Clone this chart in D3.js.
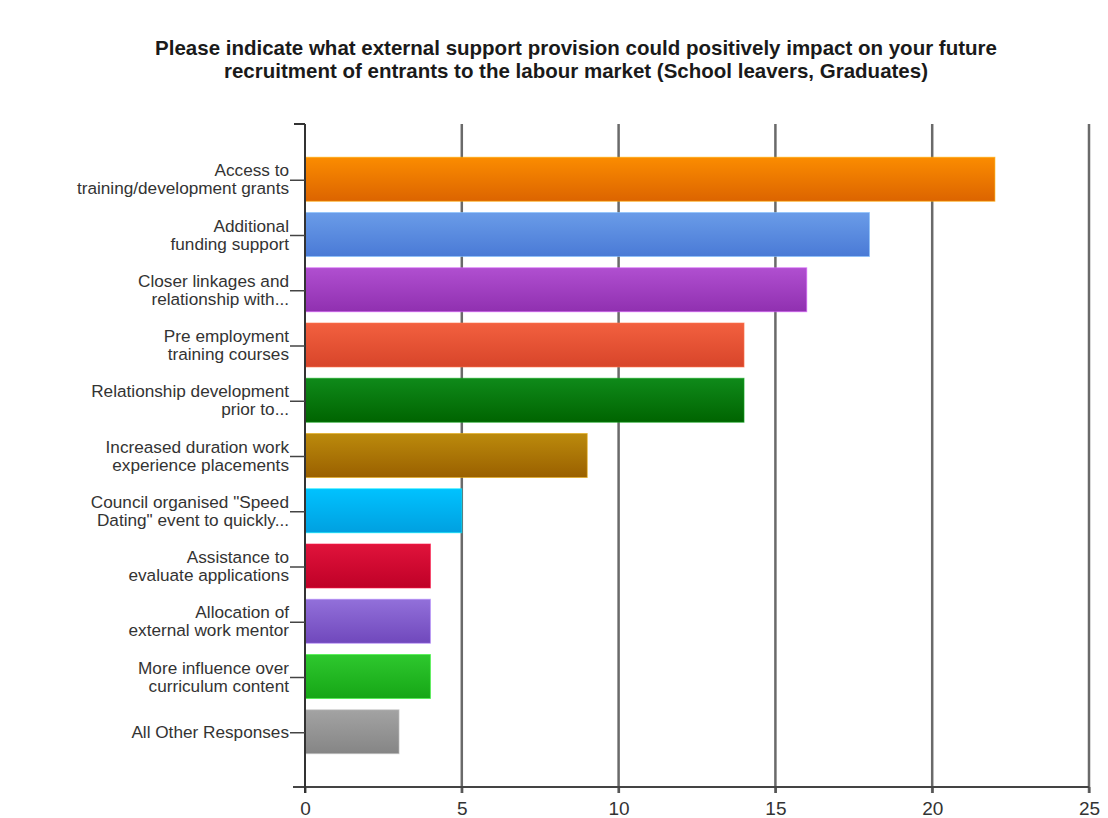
<!DOCTYPE html>
<html>
<head>
<meta charset="utf-8">
<script src="https://cdn.jsdelivr.net/npm/d3@7"></script>
<style>
  html, body { margin: 0; padding: 0; background: #fff; }
  svg { display: block; font-family: "Liberation Sans", Arial, sans-serif; }
</style>
</head>
<body>
<svg id="chart" width="1108" height="818"></svg>
<script>
// Survey responses: external support provision that could help recruitment
const titleLines = [
  "Please indicate what external support provision could positively impact on your future",
  "recruitment of entrants to the labour market (School leavers, Graduates)"
];
const categories = [
  ["Access to", "training/development grants"],
  ["Additional", "funding support"],
  ["Closer linkages and", "relationship with..."],
  ["Pre employment", "training courses"],
  ["Relationship development", "prior to..."],
  ["Increased duration work", "experience placements"],
  ["Council organised \"Speed", "Dating\" event to quickly..."],
  ["Assistance to", "evaluate applications"],
  ["Allocation of", "external work mentor"],
  ["More influence over", "curriculum content"],
  ["All Other Responses"]
];
const values = [22, 18, 16, 14, 14, 9, 5, 4, 4, 4, 3];
const colorsTop = ["#fb8c00", "#6a9ce8", "#b04fd0", "#f2603f", "#0f8a1a", "#bb8a0c", "#00c2ff", "#e0133b", "#9270da", "#2ec82e", "#a3a3a3"];
const colorsBottom = ["#dc6400", "#4a7ad6", "#9030b0", "#d8452a", "#006400", "#9a6000", "#00a0e0", "#bf0027", "#7048bc", "#16a616", "#858585"];
const xTicks = [0, 5, 10, 15, 20, 25];

const svg = d3.select("#chart");
const plotLeft = 305, plotRight = 1089, plotTop = 124, plotBottom = 787;

const x = d3.scaleLinear().domain([0, 25]).range([plotLeft, plotRight]);
const y = d3.scalePoint().domain(d3.range(categories.length)).range([plotTop, plotBottom]).padding(1);
const barH = 44;

// Vertical gradients for each bar
const defs = svg.append("defs");
values.forEach((v, i) => {
  const g = defs.append("linearGradient").attr("id", "g" + i)
    .attr("x1", 0).attr("y1", 0).attr("x2", 0).attr("y2", 1);
  g.append("stop").attr("offset", "0%").attr("stop-color", colorsTop[i]);
  g.append("stop").attr("offset", "100%").attr("stop-color", colorsBottom[i]);
});

// Title
svg.append("text")
  .attr("text-anchor", "middle")
  .attr("font-size", 20.5).attr("font-weight", "bold").attr("fill", "#1a1a1a")
  .selectAll("tspan").data(titleLines).join("tspan")
  .attr("x", 576).attr("y", (d, i) => 55 + i * 23)
  .text(d => d);

// Vertical gridlines
svg.append("g").selectAll("line").data(xTicks.slice(1)).join("line")
  .attr("x1", d => x(d)).attr("x2", d => x(d))
  .attr("y1", plotTop).attr("y2", plotBottom + 6)
  .attr("stroke", "#6a6a6a").attr("stroke-width", 2.5);

// Bars
svg.append("g").selectAll("rect").data(values).join("rect")
  .attr("x", x(0))
  .attr("y", (d, i) => y(i) - barH / 2)
  .attr("width", d => x(d) - x(0))
  .attr("height", barH)
  .attr("fill", (d, i) => `url(#g${i})`)
  .attr("stroke", (d, i) => d3.color(colorsTop[i]).brighter(0.6))
  .attr("stroke-opacity", 0.6)
  .attr("stroke-width", 1);

// X axis
const xAxis = svg.append("g").attr("transform", `translate(0,${plotBottom})`)
  .call(d3.axisBottom(x).tickValues(xTicks).tickSize(6).tickPadding(8));
xAxis.select(".domain").remove();
xAxis.selectAll(".tick line").attr("stroke", "#555").attr("stroke-width", 2);
xAxis.selectAll(".tick text")
  .attr("y", 28).attr("dy", null)
  .attr("font-size", 19).attr("fill", "#333")
  .attr("font-family", "\"Liberation Sans\", Arial, sans-serif");
svg.append("line")
  .attr("x1", 293).attr("x2", plotRight).attr("y1", plotBottom).attr("y2", plotBottom)
  .attr("stroke", "#444").attr("stroke-width", 2);

// Y axis with category labels
svg.append("line")
  .attr("x1", plotLeft).attr("x2", plotLeft).attr("y1", plotTop).attr("y2", plotBottom + 6)
  .attr("stroke", "#333").attr("stroke-width", 2);
svg.append("line")
  .attr("x1", 294).attr("x2", plotLeft).attr("y1", plotTop).attr("y2", plotTop)
  .attr("stroke", "#333").attr("stroke-width", 2);

const yg = svg.append("g").selectAll("g").data(categories).join("g")
  .attr("transform", (d, i) => `translate(0,${y(i)})`);
yg.append("line")
  .attr("x1", 290).attr("x2", plotLeft).attr("y1", 1).attr("y2", 1)
  .attr("stroke", "#444").attr("stroke-width", 1.5);
yg.append("text")
  .attr("text-anchor", "end")
  .attr("font-size", 17.2).attr("fill", "#333")
  .selectAll("tspan").data(d => d.map((t, j) => ({ t, j, n: d.length }))).join("tspan")
  .attr("x", 289)
  .attr("y", d => d.n === 1 ? 6 : (d.j === 0 ? -3 : 15))
  .text(d => d.t);
</script>
</body>
</html>
